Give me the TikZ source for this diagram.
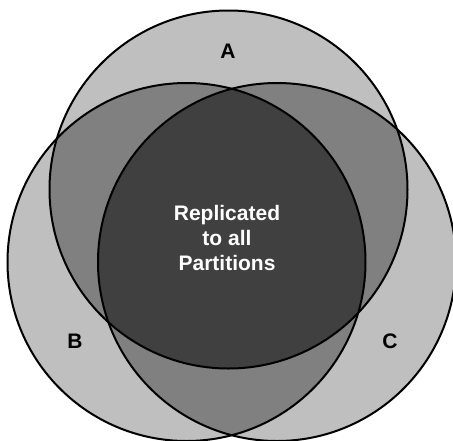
\documentclass[tikz,border=0pt]{standalone}
\usepackage{fontspec}
\setmainfont{Liberation Sans}

\begin{document}
\begin{tikzpicture}[
                x=1pt, y=-1pt,
                every node/.style={font=\bfseries\fontsize{21}{25}\selectfont},
                onefill/.style={fill=black!25},
                twofill/.style={fill=black!50},
                threefill/.style={fill=black!75},
                ring/.style={draw=black, line width=2pt}
                ]
                \useasboundingbox (0,0) rectangle (453,440);
                \def\rad{179pt}
                % Define the circle centres
                \coordinate (cA) at (228.5,189.5);
                \coordinate (cB) at (186.5,262);
                \coordinate (cC) at (277,262);

                % Fill the regions
                \fill[onefill] (cA) circle[radius=\rad] (cB) circle[radius=\rad] (cC) circle[radius=\rad];
                \begin{scope}
                  \clip (cA) circle[radius=\rad];
                  \fill[twofill] (cB) circle[radius=\rad] (cC) circle[radius=\rad];
                \end{scope}
                \begin{scope}
                  \clip (cB) circle[radius=\rad];
                  \fill[twofill] (cC) circle[radius=\rad];
                \end{scope}
                \begin{scope}
                  \clip (cA) circle[radius=\rad];
                  \clip (cB) circle[radius=\rad];
                  \fill[threefill] (cC) circle[radius=\rad];
                \end{scope}

                % Draw the outlines
                \draw[ring] (cA) circle[radius=\rad];
                \draw[ring] (cB) circle[radius=\rad];
                \draw[ring] (cC) circle[radius=\rad];

                % Labels
                \node[text=white, align=center] (core) at (227,238) {Replicated\\to all\\Partitions};
                \node (nA) at (228,51) {A};
                \node (nB) at (75,341) {B};
                \node (nC) at (390,341) {C};
            \end{tikzpicture}
\end{document}
